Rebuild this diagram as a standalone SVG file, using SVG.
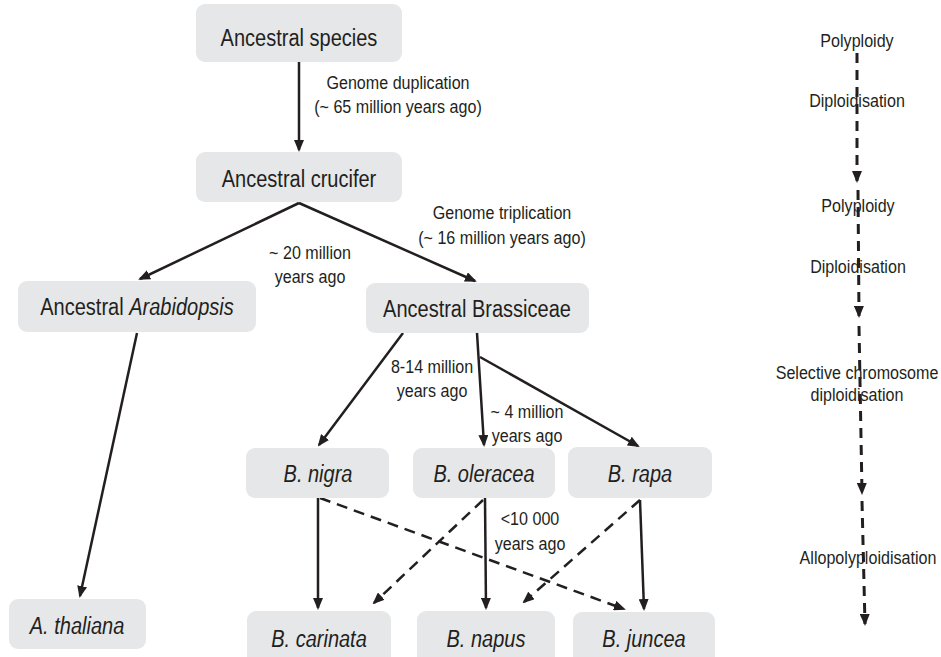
<svg xmlns="http://www.w3.org/2000/svg" width="941" height="657" viewBox="0 0 941 657">
<style>
.box{fill:#e6e7e8;}
.nt{font-family:"Liberation Sans",Arial,sans-serif;font-size:23px;fill:#231f20;text-anchor:middle;}
.lt{font-family:"Liberation Sans",Arial,sans-serif;font-size:18.5px;fill:#231f20;text-anchor:middle;}
.ln{stroke:#231f20;stroke-width:2.5;fill:none;}
.dl{stroke:#231f20;stroke-width:2.5;fill:none;stroke-dasharray:11 7;}
.rl{stroke:#231f20;stroke-width:3;fill:none;stroke-dasharray:10 7;}
</style>
<defs>
<marker id="ah" viewBox="0 0 12 10" refX="10" refY="5" markerWidth="12" markerHeight="10" orient="auto" markerUnits="userSpaceOnUse"><path d="M0,0 L12,5 L0,10 z" fill="#231f20"/></marker>
</defs>
<rect width="941" height="657" fill="#fff"/>
<g id="connectors">
<line class="ln" x1="299" y1="62" x2="299" y2="150" marker-end="url(#ah)"/>
<line class="ln" x1="299" y1="203" x2="140" y2="279" marker-end="url(#ah)"/>
<line class="ln" x1="299" y1="203" x2="475" y2="281" marker-end="url(#ah)"/>
<line class="ln" x1="137" y1="333" x2="80" y2="596" marker-end="url(#ah)"/>
<line class="ln" x1="403" y1="333" x2="319" y2="445" marker-end="url(#ah)"/>
<line class="ln" x1="477" y1="333" x2="484" y2="445" marker-end="url(#ah)"/>
<line class="ln" x1="480" y1="357" x2="638" y2="446" marker-end="url(#ah)"/>
<line class="ln" x1="318" y1="498" x2="318" y2="608" marker-end="url(#ah)"/>
<line class="ln" x1="485" y1="498" x2="486" y2="608" marker-end="url(#ah)"/>
<line class="ln" x1="640" y1="500" x2="644" y2="609" marker-end="url(#ah)"/>
<line class="dl" x1="483" y1="500" x2="374" y2="603" marker-end="url(#ah)"/>
<line class="dl" x1="320" y1="498" x2="624" y2="609" marker-end="url(#ah)"/>
<line class="dl" x1="640" y1="500" x2="524" y2="602" marker-end="url(#ah)"/>
<line class="rl" x1="857" y1="53" x2="857" y2="181" marker-end="url(#ah)"/>
<line class="rl" x1="858" y1="190" x2="859" y2="316" marker-end="url(#ah)"/>
<line class="rl" x1="859" y1="326" x2="862" y2="493" marker-end="url(#ah)"/>
<line class="rl" x1="862" y1="501" x2="865" y2="624" marker-end="url(#ah)"/>
</g>
<g id="n-species"><rect class="box" x="196" y="4" width="206" height="58" rx="9"/><text class="nt" transform="translate(299,46) scale(0.87,1)">Ancestral species</text></g>
<g id="n-crucifer"><rect class="box" x="196" y="152" width="206" height="50" rx="9"/><text class="nt" transform="translate(299,187) scale(0.87,1)">Ancestral crucifer</text></g>
<g id="n-arabidopsis"><rect class="box" x="18" y="281" width="238" height="51" rx="9"/><text class="nt" transform="translate(137,315) scale(0.87,1)">Ancestral <tspan font-style="italic">Arabidopsis</tspan></text></g>
<g id="n-brassiceae"><rect class="box" x="366" y="283" width="223" height="50" rx="9"/><text class="nt" transform="translate(477,317) scale(0.87,1)">Ancestral Brassiceae</text></g>
<g id="n-nigra"><rect class="box" x="246" y="448" width="143" height="50" rx="9"/><text class="nt" transform="translate(318,482) scale(0.87,1)" font-style="italic">B. nigra</text></g>
<g id="n-oleracea"><rect class="box" x="413" y="448" width="142" height="50" rx="9"/><text class="nt" transform="translate(484,482) scale(0.87,1)" font-style="italic">B. oleracea</text></g>
<g id="n-rapa"><rect class="box" x="568" y="447" width="144" height="51" rx="9"/><text class="nt" transform="translate(640,482) scale(0.87,1)" font-style="italic">B. rapa</text></g>
<g id="n-thaliana"><rect class="box" x="9" y="599" width="137" height="50" rx="9"/><text class="nt" transform="translate(77,634) scale(0.87,1)" font-style="italic">A. thaliana</text></g>
<g id="n-carinata"><rect class="box" x="247" y="611" width="144" height="56" rx="9"/><text class="nt" transform="translate(319,647) scale(0.87,1)" font-style="italic">B. carinata</text></g>
<g id="n-napus"><rect class="box" x="417" y="611" width="138" height="56" rx="9"/><text class="nt" transform="translate(486,647) scale(0.87,1)" font-style="italic">B. napus</text></g>
<g id="n-juncea"><rect class="box" x="573" y="612" width="142" height="55" rx="9"/><text class="nt" transform="translate(644,647) scale(0.87,1)" font-style="italic">B. juncea</text></g>
<g id="labels">
<text class="lt" transform="translate(398,89) scale(0.87,1)">Genome duplication</text>
<text class="lt" transform="translate(398,113) scale(0.87,1)">(~ 65 million years ago)</text>
<text class="lt" transform="translate(310,259) scale(0.87,1)">~ 20 million</text>
<text class="lt" transform="translate(310,283) scale(0.87,1)">years ago</text>
<text class="lt" transform="translate(502,219) scale(0.87,1)">Genome triplication</text>
<text class="lt" transform="translate(502,244) scale(0.87,1)">(~ 16 million years ago)</text>
<text class="lt" transform="translate(432,373) scale(0.87,1)">8-14 million</text>
<text class="lt" transform="translate(432,397) scale(0.87,1)">years ago</text>
<text class="lt" transform="translate(527,418) scale(0.87,1)">~ 4 million</text>
<text class="lt" transform="translate(527,442) scale(0.87,1)">years ago</text>
<text class="lt" transform="translate(530,525) scale(0.87,1)">&lt;10 000</text>
<text class="lt" transform="translate(530,550) scale(0.87,1)">years ago</text>
<text class="lt" transform="translate(857,47) scale(0.87,1)">Polyploidy</text>
<text class="lt" transform="translate(857,107) scale(0.87,1)">Diploidisation</text>
<text class="lt" transform="translate(858,212) scale(0.87,1)">Polyploidy</text>
<text class="lt" transform="translate(858,273) scale(0.87,1)">Diploidisation</text>
<text class="lt" transform="translate(857,379) scale(0.87,1)">Selective chromosome</text>
<text class="lt" transform="translate(857,401) scale(0.87,1)">diploidisation</text>
<text class="lt" transform="translate(868,564) scale(0.87,1)">Allopolyploidisation</text>
</g>
</svg>
